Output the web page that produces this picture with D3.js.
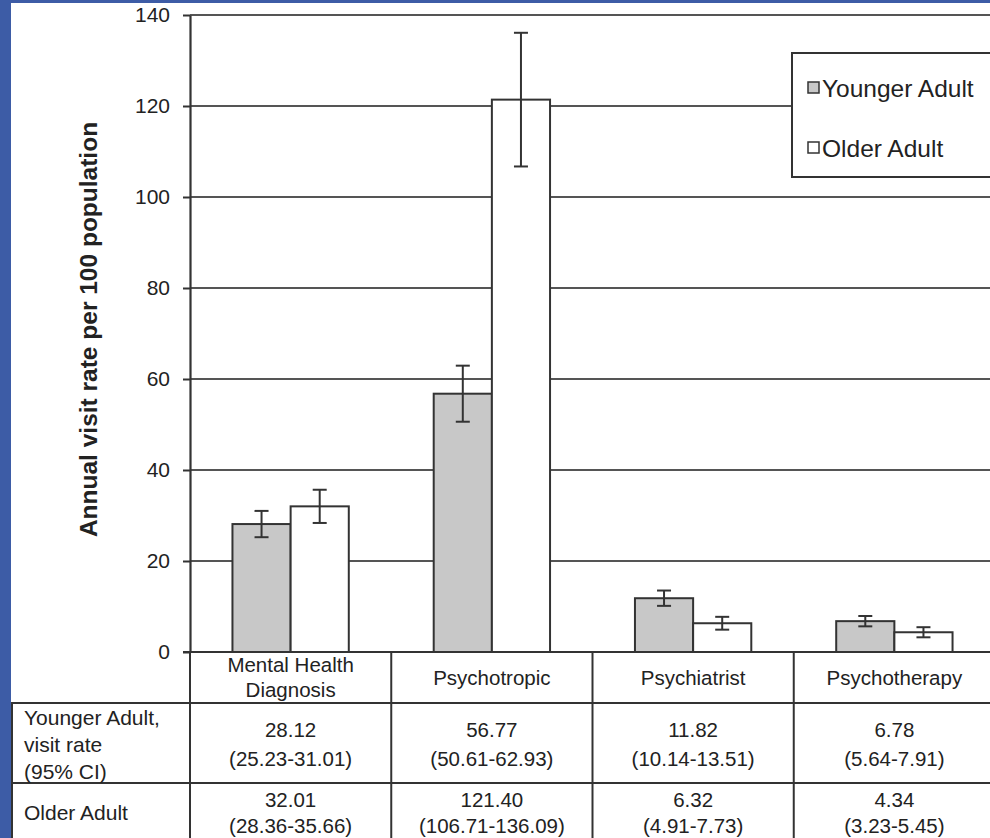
<!DOCTYPE html>
<html>
<head>
<meta charset="utf-8">
<script src="https://cdn.jsdelivr.net/npm/d3@7"></script>
<style>
  html, body { margin: 0; padding: 0; background: #3d5ca6; }
  svg { display: block; font-family: "Liberation Sans", Arial, sans-serif; }
</style>
</head>
<body>
<svg id="chart"></svg>
<script>
// chart values
const categories = ["Mental Health Diagnosis", "Psychotropic", "Psychiatrist", "Psychotherapy"];
const categoryLines = [["Mental Health", "Diagnosis"], ["Psychotropic"], ["Psychiatrist"], ["Psychotherapy"]];
const series = ["Younger Adult", "Older Adult"];
const younger = [28.12, 56.77, 11.82, 6.78];
const youngerLo = [25.23, 50.61, 10.14, 5.64];
const youngerHi = [31.01, 62.93, 13.51, 7.91];
const older = [32.01, 121.40, 6.32, 4.34];
const olderLo = [28.36, 106.71, 4.91, 3.23];
const olderHi = [35.66, 136.09, 7.73, 5.45];
const yTicks = [0, 20, 40, 60, 80, 100, 120, 140];
const rowLabels = [["Younger Adult,", "visit rate", "(95% CI)"], ["Older Adult"]];

const width = 990, height = 838;
const plotLeft = 190, plotRight = 995, plotTop = 15, plotBottom = 652;
const lineColor = "#333";
const gridColor = "#555";

const svg = d3.select("#chart").attr("width", width).attr("height", height);

// white page over the blue slide background
svg.append("rect").attr("x", 11).attr("y", 3)
   .attr("width", width - 11).attr("height", height - 3).attr("fill", "#fff");

const y = d3.scaleLinear().domain([0, 140]).range([plotBottom, plotTop]);
const x0 = d3.scaleBand().domain(categories).range([plotLeft, plotRight]);
const x1 = d3.scaleBand().domain(series).range([0, x0.bandwidth()]).paddingOuter(0.73);
const color = d3.scaleOrdinal().domain(series).range(["#c8c8c8", "#ffffff"]);

// gridlines
svg.append("g").selectAll("line")
   .data(yTicks.filter(d => d > 0))
   .enter().append("line")
   .attr("x1", plotLeft).attr("x2", width)
   .attr("y1", d => y(d)).attr("y2", d => y(d))
   .attr("stroke", gridColor).attr("stroke-width", 2.2);

// y axis
const yAxis = svg.append("g")
   .attr("transform", `translate(${plotLeft},0)`)
   .call(d3.axisLeft(y).tickValues(yTicks).tickSize(7).tickSizeOuter(0).tickPadding(13));
yAxis.select(".domain").attr("stroke", lineColor).attr("stroke-width", 2.2);
yAxis.selectAll(".tick line").attr("stroke", lineColor).attr("stroke-width", 2);
yAxis.selectAll(".tick text").attr("font-size", 21).attr("fill", "#222")
   .attr("font-family", "'Liberation Sans', Arial, sans-serif");

svg.append("text")
   .attr("transform", `translate(97,${(plotTop + plotBottom) / 2 - 4}) rotate(-90)`)
   .attr("text-anchor", "middle")
   .attr("font-size", 24.5).attr("font-weight", "bold").attr("fill", "#222")
   .text("Annual visit rate per 100 population");

// bars
const rows = categories.map((c, i) => ({
  cat: c,
  values: [
    { key: series[0], v: younger[i], lo: youngerLo[i], hi: youngerHi[i] },
    { key: series[1], v: older[i], lo: olderLo[i], hi: olderHi[i] }
  ]
}));

const groups = svg.append("g").selectAll("g")
   .data(rows).enter().append("g")
   .attr("transform", d => `translate(${x0(d.cat)},0)`);

groups.selectAll("rect")
   .data(d => d.values).enter().append("rect")
   .attr("x", d => x1(d.key))
   .attr("y", d => y(d.v))
   .attr("width", x1.bandwidth())
   .attr("height", d => y(0) - y(d.v))
   .attr("fill", d => color(d.key))
   .attr("stroke", lineColor).attr("stroke-width", 2);

// error bars
const err = groups.selectAll("g.err")
   .data(d => d.values).enter().append("g").attr("class", "err")
   .attr("stroke", lineColor).attr("stroke-width", 2);
err.append("line")
   .attr("x1", d => x1(d.key) + x1.bandwidth() / 2).attr("x2", d => x1(d.key) + x1.bandwidth() / 2)
   .attr("y1", d => y(d.lo)).attr("y2", d => y(d.hi));
err.selectAll("line.cap")
   .data(d => [d.lo, d.hi].map(v => ({ key: d.key, v: v }))).enter().append("line").attr("class", "cap")
   .attr("x1", d => x1(d.key) + x1.bandwidth() / 2 - 7).attr("x2", d => x1(d.key) + x1.bandwidth() / 2 + 7)
   .attr("y1", d => y(d.v)).attr("y2", d => y(d.v));

// baseline / table top
svg.append("line").attr("x1", plotLeft - 7).attr("x2", width)
   .attr("y1", y(0)).attr("y2", y(0)).attr("stroke", lineColor).attr("stroke-width", 2.2);

// data table under the chart
const rowTop = [703, 783];
const table = svg.append("g").attr("fill", "#222").attr("font-size", 20.5);

table.selectAll("line.h").data(rowTop).enter().append("line").attr("class", "h")
   .attr("x1", 11).attr("x2", width).attr("y1", d => d).attr("y2", d => d)
   .attr("stroke", lineColor).attr("stroke-width", 2);
table.append("line").attr("x1", 12).attr("x2", 12).attr("y1", rowTop[0]).attr("y2", height)
   .attr("stroke", lineColor).attr("stroke-width", 2);
table.selectAll("line.v").data(categories).enter().append("line").attr("class", "v")
   .attr("x1", d => x0(d)).attr("x2", d => x0(d))
   .attr("y1", y(0)).attr("y2", height)
   .attr("stroke", lineColor).attr("stroke-width", 2);

// header cells
const headerCenter = (y(0) + rowTop[0]) / 2;
table.selectAll("text.head").data(categories).enter().append("text").attr("class", "head")
   .attr("text-anchor", "middle")
   .attr("x", d => x0(d) + x0.bandwidth() / 2)
   .each(function(d, i) {
     const lines = categoryLines[i];
     const start = headerCenter - (lines.length - 1) * 12.5;
     d3.select(this).selectAll("tspan").data(lines).enter().append("tspan")
       .attr("x", x0(d) + x0.bandwidth() / 2)
       .attr("y", (l, j) => start + j * 25).attr("dy", "0.35em")
       .text(l => l);
   });

// row labels
const rowLabelY = [[718, 745, 772], [813]];
rowLabels.forEach((lines, r) => {
  table.append("text").attr("font-size", 21).selectAll("tspan").data(lines).enter().append("tspan")
     .attr("x", 24).attr("y", (l, j) => rowLabelY[r][j]).attr("dy", "0.35em")
     .text(l => l);
});

// value cells
const fmt = d3.format(".2f");
const cellY = [[730, 759], [800, 826]];
[[younger, youngerLo, youngerHi], [older, olderLo, olderHi]].forEach((arr, r) => {
  table.selectAll(null).data(categories).enter().append("text")
     .attr("text-anchor", "middle")
     .each(function(c, i) {
       const t = d3.select(this);
       const cx = x0(c) + x0.bandwidth() / 2;
       t.append("tspan").attr("x", cx).attr("y", cellY[r][0]).attr("dy", "0.35em").text(fmt(arr[0][i]));
       t.append("tspan").attr("x", cx).attr("y", cellY[r][1]).attr("dy", "0.35em")
        .text(`(${fmt(arr[1][i])}-${fmt(arr[2][i])})`);
     });
});

// legend
const legend = svg.append("g");
legend.append("rect").attr("x", 792).attr("y", 53).attr("width", 220).attr("height", 124)
   .attr("fill", "#fff").attr("stroke", lineColor).attr("stroke-width", 2);
const li = legend.selectAll("g.item").data(series).enter().append("g").attr("class", "item")
   .attr("transform", (d, i) => `translate(808,${88 + i * 60})`);
li.append("rect").attr("x", 0).attr("y", -6).attr("width", 11).attr("height", 11)
   .attr("fill", d => color(d)).attr("stroke", lineColor).attr("stroke-width", 1.5);
li.append("text").attr("x", 14).attr("y", 0).attr("dy", "0.35em")
   .attr("font-size", 24.5).attr("fill", "#222").text(d => d);
</script>
</body>
</html>
